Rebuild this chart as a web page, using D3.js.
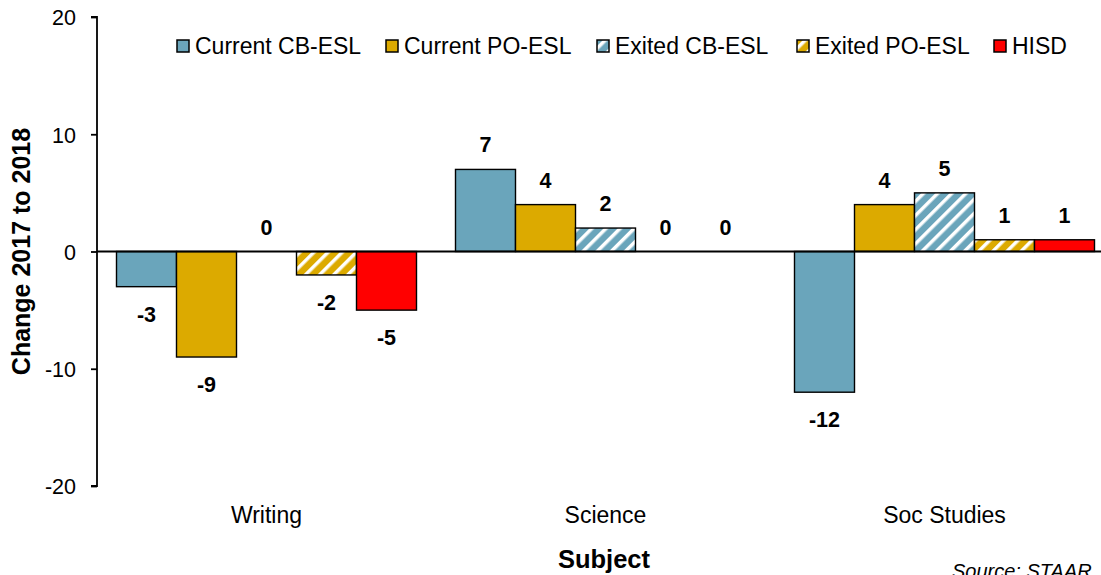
<!DOCTYPE html>
<html>
<head>
<meta charset="utf-8">
<script src="https://cdn.jsdelivr.net/npm/d3@7"></script>
<style>
  html, body { margin: 0; padding: 0; background: #fff; }
  svg { display: block; font-family: "Liberation Sans", Arial, sans-serif; }
</style>
</head>
<body>
<svg id="chart" width="1101" height="575"></svg>
<script>
// STAAR change 2017 to 2018 by subject and student group
const subjects = ["Writing", "Science", "Soc Studies"];
const seriesNames = ["Current CB-ESL", "Current PO-ESL", "Exited CB-ESL", "Exited PO-ESL", "HISD"];
const currentCB = [-3, 7, -12];
const currentPO = [-9, 4, 4];
const exitedCB = [0, 2, 5];
const exitedPO = [-2, 0, 1];
const hisd = [-5, 0, 1];
const yTicks = [-20, -10, 0, 10, 20];

const seriesValues = [currentCB, currentPO, exitedCB, exitedPO, hisd];
const colors = ["#6aa5bb", "#dcaa00", "#6aa5bb", "#dcaa00", "#ff0000"];
const hatched = [false, false, true, true, false];

const svg = d3.select("#chart");
const W = 1101, H = 575;
const margin = { left: 97, top: 17, bottom: 89 };
const plotRight = 1114; // plot area runs slightly past the visible edge

const defs = svg.append("defs");
[0, 1].forEach(i => {
  const p = defs.append("pattern")
    .attr("id", "hatch" + i)
    .attr("patternUnits", "userSpaceOnUse")
    .attr("width", 10).attr("height", 10)
    .attr("patternTransform", "rotate(45)");
  p.append("rect").attr("width", 10).attr("height", 10).attr("fill", colors[i]);
  p.append("rect").attr("x", 0).attr("width", 3.5).attr("height", 10).attr("fill", "#fff");
});

const x0 = d3.scaleBand().domain(subjects).range([margin.left, plotRight]).paddingInner(0).paddingOuter(0);
const x1 = d3.scaleBand().domain(d3.range(seriesNames.length)).range([0, x0.bandwidth()]).paddingInner(0).paddingOuter(0.325);
const y = d3.scaleLinear().domain([-20, 20]).range([H - margin.bottom, margin.top]);

// y axis
const yAxis = d3.axisLeft(y).tickValues(yTicks).tickSize(6).tickPadding(15).tickFormat(d => String(d));
const gy = svg.append("g").attr("transform", `translate(${margin.left},0)`).call(yAxis);
gy.select(".domain").attr("stroke", "#000").attr("stroke-width", 1.8).attr("d", `M-6,${y(20)}H0V${y(-20)}H-6`);
gy.selectAll(".tick line").attr("stroke", "#000").attr("stroke-width", 1.8);
gy.selectAll(".tick text").attr("font-size", 21.5).attr("fill", "#000")
  .attr("font-family", "'Liberation Sans', Arial, sans-serif").attr("dy", "0.36em");

// bars and value labels
const groups = svg.append("g").selectAll("g").data(subjects).join("g")
  .attr("transform", d => `translate(${x0(d)},0)`);

groups.each(function (subj, si) {
  const g = d3.select(this);
  seriesValues.forEach((vals, k) => {
    const v = vals[si];
    if (v !== 0) {
      g.append("rect")
        .attr("x", x1(k))
        .attr("width", x1.bandwidth())
        .attr("y", Math.min(y(v), y(0)))
        .attr("height", Math.abs(y(v) - y(0)))
        .attr("fill", hatched[k] ? `url(#hatch${k - 2})` : colors[k])
        .attr("stroke", "#000")
        .attr("stroke-width", 1.4);
    }
    g.append("text")
      .attr("x", x1(k) + x1.bandwidth() / 2)
      .attr("y", v < 0 ? y(v) + 35 : y(v) - 17)
      .attr("text-anchor", "middle")
      .attr("font-size", 21.5)
      .attr("font-weight", "bold")
      .attr("fill", "#000")
      .text(v);
  });
});

// zero line
svg.append("line")
  .attr("x1", margin.left).attr("x2", W)
  .attr("y1", y(0)).attr("y2", y(0))
  .attr("stroke", "#000").attr("stroke-width", 1.8);

// category labels
svg.append("g").selectAll("text").data(subjects).join("text")
  .attr("x", d => x0(d) + x0.bandwidth() / 2)
  .attr("y", 523)
  .attr("text-anchor", "middle")
  .attr("font-size", 23)
  .attr("fill", "#000")
  .text(d => d);

// axis titles
svg.append("text")
  .attr("x", 604).attr("y", 568)
  .attr("text-anchor", "middle")
  .attr("font-size", 25.5).attr("font-weight", "bold")
  .text("Subject");

svg.append("text")
  .attr("transform", `translate(30,${y(0)}) rotate(-90)`)
  .attr("text-anchor", "middle")
  .attr("font-size", 25).attr("font-weight", "bold")
  .text("Change 2017 to 2018");

svg.append("text")
  .attr("x", 952).attr("y", 578)
  .attr("font-size", 20).attr("font-style", "italic")
  .text("Source: STAAR");

// legend
const legendX = [177, 386, 597, 797, 994];
const legend = svg.append("g").selectAll("g").data(seriesNames).join("g")
  .attr("transform", (d, i) => `translate(${legendX[i]},46)`);
legend.append("rect")
  .attr("x", 0).attr("y", -6).attr("width", 12).attr("height", 12)
  .attr("fill", (d, i) => hatched[i] ? `url(#hatch${i - 2})` : colors[i])
  .attr("stroke", "#000").attr("stroke-width", 1.5);
legend.append("text")
  .attr("x", 18).attr("y", 8)
  .attr("font-size", 23)
  .attr("fill", "#000")
  .text(d => d);
</script>
</body>
</html>
